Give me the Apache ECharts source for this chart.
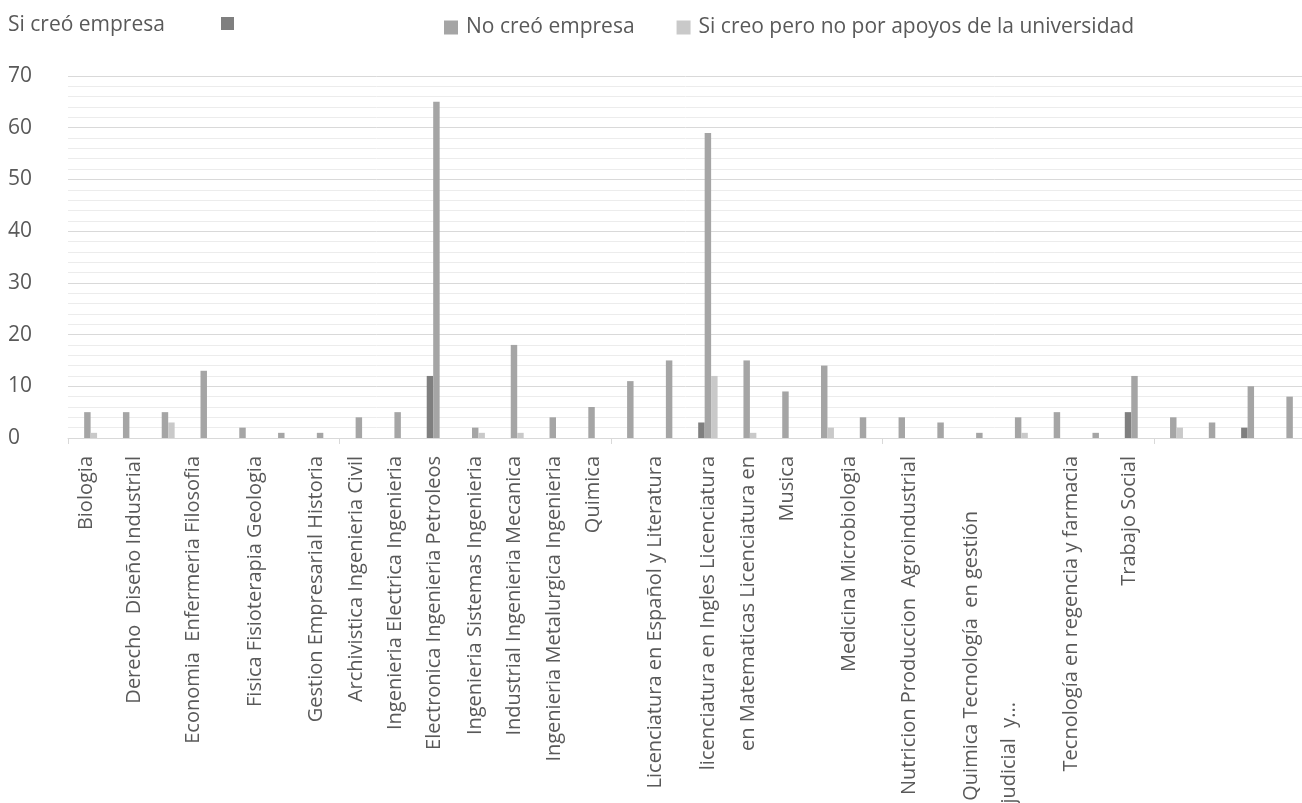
<!DOCTYPE html>
<html>
<head>
<meta charset="utf-8">
<title>Creación de empresa por programa</title>
<script src="https://cdn.jsdelivr.net/npm/echarts@6/dist/echarts.min.js"></script>
<style>
  html, body { margin: 0; padding: 0; background: #fff; overflow: hidden; }
  #chart { width: 1302px; height: 803px; }
</style>
</head>
<body>
<div id="chart"></div>
<script>
// category labels as they show under the axis ('' = no label drawn)
const categories = [
  'Biologia', 'Derecho  Diseño Industrial', '', 'Economia  Enfermeria Filosofia',
  'Fisica Fisioterapia Geologia', '', 'Gestion Empresarial Historia', 'Archivistica Ingenieria Civil',
  'Ingenieria Electrica Ingenieria', 'Electronica Ingenieria Petroleos', 'Ingenieria Sistemas Ingenieria', 'Industrial Ingenieria Mecanica',
  'Ingenieria Metalurgica Ingenieria', 'Quimica', '', 'Licenciatura en Español y Literatura',
  'licenciatura en Ingles Licenciatura', 'en Matematicas Licenciatura en', 'Musica', '',
  'Medicina Microbiologia', 'Nutricion Produccion  Agroindustrial', '', 'Quimica Tecnología  en gestión',
  'judicial  y...', 'Tecnología en regencia y farmacia', '', 'Trabajo Social',
  '', '', '', ''
];

const seriesNames = ['Si creó empresa', 'No creó empresa', 'Si creo pero no por apoyos de la universidad'];

const siCreo = [0, 0, 0, 0, 0, 0, 0, 0, 0, 12, 0, 0, 0, 0, 0, 0, 3, 0, 0, 0, 0, 0, 0, 0, 0, 0, 0, 5, 0, 0, 2, 0];
const noCreo = [5, 5, 5, 13, 2, 1, 1, 4, 5, 65, 2, 18, 4, 6, 11, 15, 59, 15, 9, 14, 4, 4, 3, 1, 4, 5, 1, 12, 4, 3, 10, 8];
const siCreoSinApoyo = [1, 0, 3, 0, 0, 0, 0, 0, 0, 0, 1, 1, 0, 0, 0, 0, 12, 1, 0, 2, 0, 0, 0, 0, 1, 0, 0, 0, 2, 0, 0, 0];

const yMin = 0;
const yMax = 70;
const yStep = 10;

// excel wrapped labels do not sit on the category centre: sideways nudge in px
const bandPx = 38.77;
const labelShift = {
  0: -1, 1: 8, 3: -10, 4: 13, 6: -4, 7: -3, 8: -2, 9: -2, 12: 2, 13: 2,
  15: -14, 17: 2, 18: 2, 20: -14, 21: 7, 23: -8, 24: -9, 25: 14, 27: -5
};
// the two halves of the truncated label start lower down
const labelGap = { 23: 'gapA', 24: 'gapB' };

const textColor = '#595959';
const font = 'Open Sans';

const labelPos = [];
const labelText = [];
categories.forEach((c, i) => {
  if (!c) return;
  labelPos.push(i + 0.5 + (labelShift[i] || 0) / bandPx);
  labelText.push(labelGap[i] ? c + '{' + labelGap[i] + '| }' : c);
});

const chart = echarts.init(document.getElementById('chart'));

chart.setOption({
  animation: false,
  title: {
    text: seriesNames[0],
    left: 8,
    top: 15,
    padding: 0,
    textStyle: { fontFamily: font, fontSize: 21, fontWeight: 'normal', color: textColor }
  },
  legend: [
    {
      data: [seriesNames[0]],
      left: 221,
      top: 17,
      padding: 0,
      icon: 'rect',
      itemWidth: 13,
      itemHeight: 13,
      formatter: () => '',
      textStyle: { fontFamily: font, fontSize: 21, color: textColor }
    },
    {
      data: [seriesNames[1], seriesNames[2]],
      left: 444,
      top: 17,
      padding: 0,
      icon: 'rect',
      itemWidth: 14,
      itemHeight: 14,
      itemGap: 42,
      textStyle: { fontFamily: font, fontSize: 21, color: textColor, padding: [0, 0, 0, 3] }
    }
  ],
  grid: {
    left: 68,
    right: -7,
    top: 76,
    bottom: 365,
    containLabel: false,
    outerBoundsMode: 'none'
  },
  xAxis: [
    {
      type: 'category',
      data: categories,
      position: 'bottom',
      axisLine: { lineStyle: { color: '#d9d9d9', width: 1 } },
      axisTick: { show: true, length: 6, lineStyle: { color: '#d9d9d9' } },
      axisLabel: { show: false },
      splitLine: { show: false }
    },
    {
      // label-only axis, same span as the categories
      type: 'value',
      min: 0,
      max: categories.length,
      position: 'bottom',
      axisLine: { show: false },
      axisTick: { show: false },
      splitLine: { show: false },
      axisLabel: {
        customValues: labelPos,
        formatter: v => {
          const k = labelPos.findIndex(p => Math.abs(p - v) < 1e-6);
          return k < 0 ? '' : labelText[k];
        },
        rotate: 90,
        margin: 18,
        fontFamily: font,
        fontSize: 20,
        color: textColor,
        rich: {
          gapA: { width: 55 },
          gapB: { width: 246 }
        }
      }
    }
  ],
  yAxis: {
    type: 'value',
    min: yMin,
    max: yMax,
    interval: yStep,
    axisLine: { show: false },
    axisTick: { show: false },
    axisLabel: {
      fontFamily: font,
      fontSize: 21,
      color: textColor,
      align: 'left',
      margin: 60
    },
    splitLine: { lineStyle: { color: '#d9d9d9', width: 1 } },
    minorTick: { show: false, splitNumber: 5 },
    minorSplitLine: { show: true, lineStyle: { color: '#ececec', width: 1 } }
  },
  series: [
    { name: seriesNames[0], type: 'bar', data: siCreo, itemStyle: { color: '#7f7f7f' } },
    { name: seriesNames[1], type: 'bar', data: noCreo, itemStyle: { color: '#a5a5a5' } },
    { name: seriesNames[2], type: 'bar', data: siCreoSinApoyo, itemStyle: { color: '#c9c9c9' } }
  ].map(s => Object.assign(s, { xAxisIndex: 0, barGap: '0%', barCategoryGap: '50%', silent: true }))
});
</script>
</body>
</html>
